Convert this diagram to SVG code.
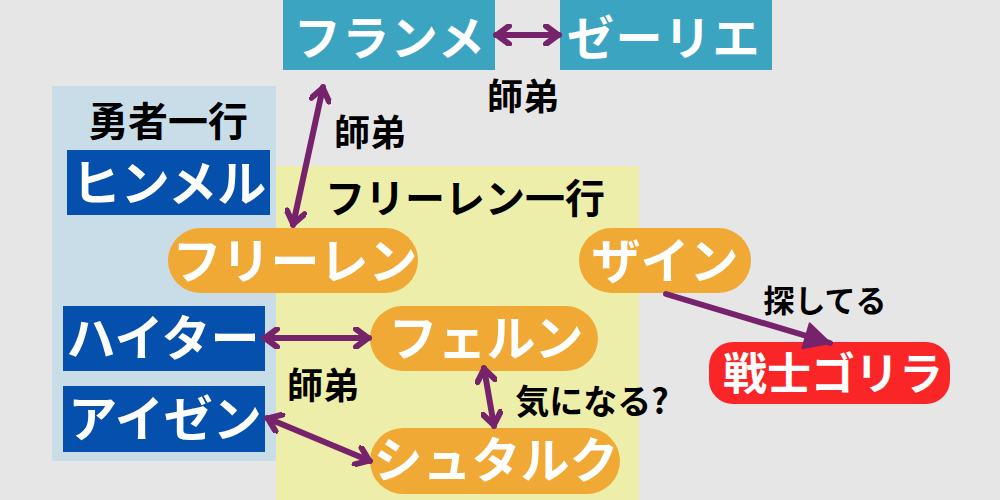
<svg xmlns="http://www.w3.org/2000/svg" width="1000" height="500" viewBox="0 0 1000 500">
<style>
text{font-family:"Noto Sans CJK JP","Noto Sans",sans-serif;font-weight:700;text-anchor:middle}
.n{fill:#fff;font-size:49px}
.top{font-size:47px;letter-spacing:1.5px}
.l{fill:#000;font-size:36px}
.g{font-size:40px}
.c{fill:none;stroke:#76236c;stroke-width:6;stroke-linecap:round;stroke-linejoin:round}
.teal{fill:#3ba5c1}.blue{fill:#0650ad}.or{fill:#f0a935}
</style>
<defs>
<marker id="ah" viewBox="-16 -11 18 22" refX="0" refY="0" markerWidth="18" markerHeight="22" markerUnits="userSpaceOnUse" orient="auto-start-reverse"><path d="M-13-9L-1 0L-13 9" fill="none" stroke="#76236c" stroke-width="6" stroke-linecap="round" stroke-linejoin="round"/></marker>
<marker id="tri" viewBox="-28 -16 30 32" refX="0" refY="0" markerWidth="30" markerHeight="32" markerUnits="userSpaceOnUse" orient="auto"><path d="M-25-13L0 0L-25 13Z" fill="#76236c" stroke="#76236c" stroke-width="2" stroke-linejoin="round"/></marker>
</defs>
<rect width="1000" height="500" fill="#e6e6e6"/>
<g id="group-hero"><rect x="52" y="86" width="224" height="375" fill="#c9dde9"/><text class="l g" x="168" y="136">勇者一行</text></g>
<g id="group-frieren"><rect x="276" y="166" width="363" height="334" fill="#eeeeab"/><text class="l g" x="465" y="213">フリーレン一行</text></g>
<g id="labels">
<text class="l" x="523" y="110">師弟</text>
<text class="l" x="370" y="146">師弟</text>
<text class="l" x="323" y="399">師弟</text>
<text class="l" x="592" y="414" style="font-size:34px">気になる?</text>
<text class="l" x="825" y="312" style="font-size:31px">探してる</text>
</g>
<g id="furanme"><rect class="teal" x="283" y="0" width="212" height="70"/><text class="n top" x="390" y="55">フランメ</text></g>
<g id="zerie"><rect class="teal" x="560" y="0" width="212" height="70"/><text class="n top" x="664" y="55">ゼーリエ</text></g>
<g id="himmel"><rect class="blue" x="67" y="150" width="203" height="65"/><text class="n" x="169" y="201">ヒンメル</text></g>
<g id="frieren"><rect class="or" x="168" y="228" width="250" height="65" rx="32.5"/><text class="n" x="295" y="279">フリーレン</text></g>
<g id="sein"><rect class="or" x="579" y="228" width="172" height="65" rx="32.5"/><text class="n" x="665" y="279">ザイン</text></g>
<g id="heiter"><rect class="blue" x="63" y="306" width="202" height="65"/><text class="n" x="163" y="356">ハイター</text></g>
<g id="fern"><rect class="or" x="370" y="306" width="228" height="65" rx="32.5"/><text class="n" x="486" y="356">フェルン</text></g>
<g id="eisen"><rect class="blue" x="63" y="386" width="202" height="66"/><text class="n" x="165" y="437">アイゼン</text></g>
<g id="stark"><rect class="or" x="370" y="428" width="250" height="66" rx="33"/><text class="n" x="496" y="478">シュタルク</text></g>
<g id="gorilla"><rect x="709" y="342" width="241" height="62" rx="24" fill="#f92527"/><text class="n" x="833" y="390" style="font-size:44px">戦士ゴリラ</text></g>
<g id="connectors">
<line class="c" x1="496" y1="35" x2="559" y2="35" marker-start="url(#ah)" marker-end="url(#ah)"/>
<line class="c" x1="323" y1="87" x2="293" y2="225" marker-start="url(#ah)" marker-end="url(#ah)"/>
<line class="c" x1="264" y1="338" x2="369" y2="338" marker-start="url(#ah)" marker-end="url(#ah)"/>
<line class="c" x1="267" y1="418" x2="370" y2="461" marker-start="url(#ah)" marker-end="url(#ah)"/>
<line class="c" x1="484" y1="368" x2="494" y2="426" marker-start="url(#ah)" marker-end="url(#ah)"/>
<line class="c" x1="666" y1="294" x2="830" y2="343" marker-end="url(#tri)"/>
</g>
</svg>
